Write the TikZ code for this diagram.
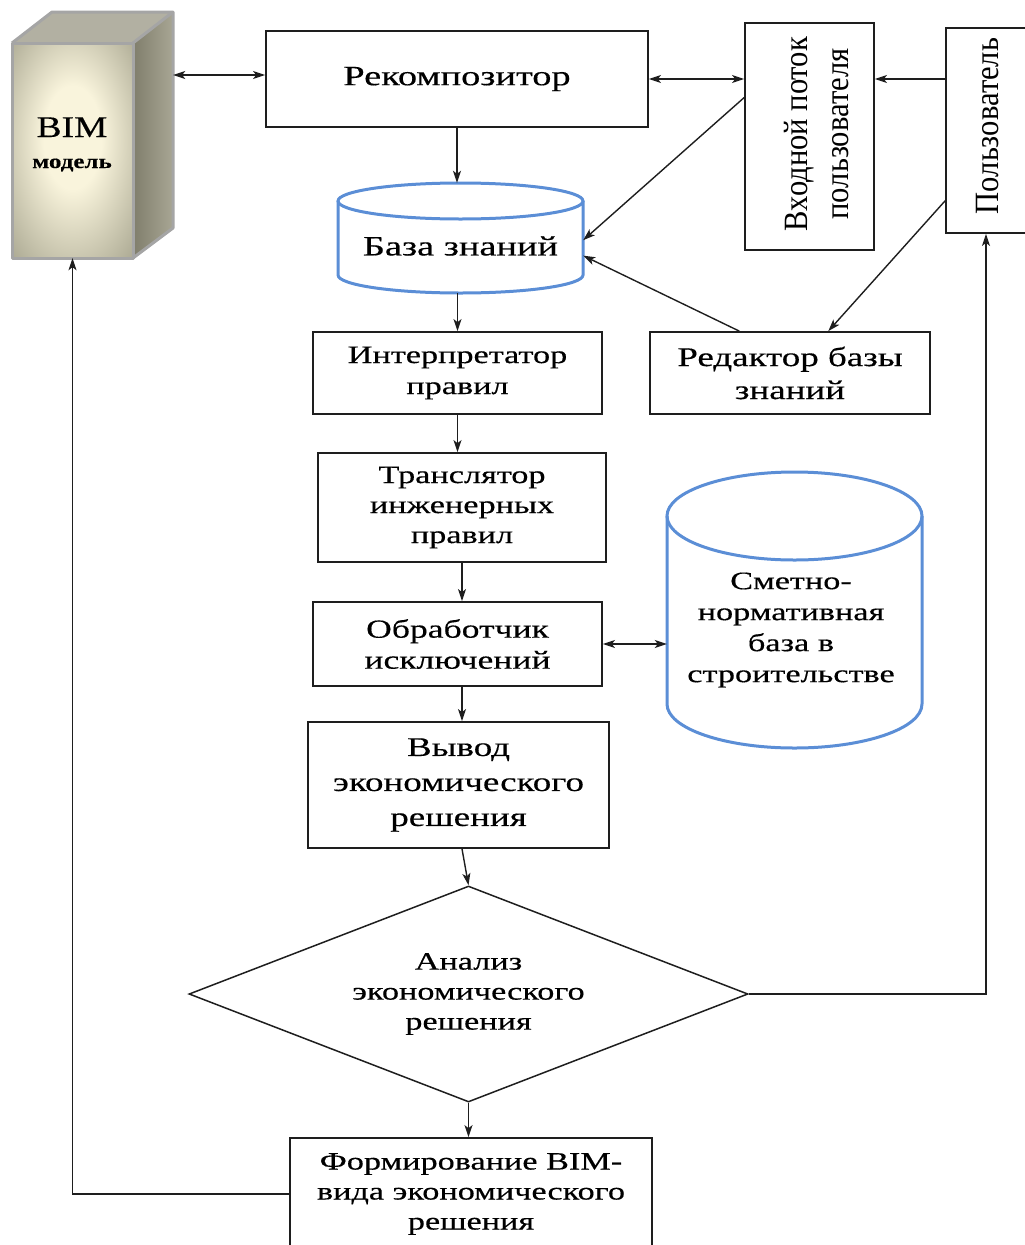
\documentclass[tikz,border=0pt]{standalone}
\usepackage{fontspec}
\setmainfont{Liberation Serif}
\newfontfamily\widef{Liberation Serif}[FakeStretch=1.37,FakeBold=0.4]
\newfontfamily\narrowf{Liberation Serif}[FakeStretch=0.9]
\newfontfamily\bimf{Liberation Serif}[FakeStretch=1.25,FakeBold=0.4]
\usetikzlibrary{arrows.meta,shapes.geometric,calc}
\newcommand\myfs[2]{\fontsize{#1}{#2}\selectfont}
\definecolor{cylblue}{RGB}{91,142,214}
\definecolor{bimin}{RGB}{249,244,220}
\definecolor{bimout}{RGB}{160,158,136}
\definecolor{bimtop}{RGB}{178,176,162}
\definecolor{bimsideA}{RGB}{128,126,108}
\definecolor{bimsideB}{RGB}{168,166,148}
\definecolor{bimedge}{RGB}{165,165,165}
\definecolor{ink}{RGB}{30,30,30}
\pgfdeclareradialshading{bimshade}{\pgfpoint{0bp}{4bp}}{color(0bp)=(bimin); color(12bp)=(bimin); color(40bp)=(bimout); color(50bp)=(bimout)}
\begin{document}
\begin{tikzpicture}[x=1pt,y=-1pt,
  box/.style={draw=ink, line width=1.8pt, inner sep=0pt, align=center},
  plain/.style={inner sep=0pt, align=center},
  cyl/.style={draw=cylblue, line width=3pt},
  arr/.style={draw=ink, line width=1.4pt, -{Stealth[length=12pt,width=8pt,inset=3pt]}},
  darr/.style={draw=ink, line width=1.4pt, {Stealth[length=12pt,width=8pt,inset=3pt]}-{Stealth[length=12pt,width=8pt,inset=3pt]}},
  bimline/.style={draw=bimedge, line width=3pt, line join=round}
]
\useasboundingbox (0,0) rectangle (1025,1245);

% ---- BIM model 3D box ----
\shade[shading=bimshade] (12,43) rectangle (133,258);
\fill[bimtop] (12,43) -- (52,12) -- (173,12) -- (133,43) -- cycle;
\shade[left color=bimsideA, right color=bimsideB] (133,43) -- (173,12) -- (173,228) -- (133,258) -- cycle;
\draw[bimline] (12,43) rectangle (133,258);
\draw[bimline] (12,43) -- (52,12) -- (173,12) -- (173,228) -- (133,258);
\draw[bimline] (133,43) -- (173,12);
\node[plain, minimum width=121, minimum height=215] (bim) at (72.5,150.5) {};
\node[plain, minimum width=161, minimum height=246] (bimbox) at (92.5,135) {};
\node[plain, anchor=base, font=\bimf\myfs{30}{34}] (bimt) at (72,137) {BIM};
\node[plain, anchor=base, font=\bimf\bfseries\myfs{20}{22}] (bimt2) at (72,168) {модель};

% ---- boxes ----
\node[box, minimum width=382, minimum height=96, font=\widef\myfs{28}{34}] (rek) at (457,79) {Рекомпозитор};
\node[box, minimum width=129, minimum height=227] (vp) at (809.5,136.5) {};
\node[plain, rotate=90, font=\narrowf\myfs{34}{41}] (vpt) at (817,134) {Входной поток\\пользователя};
\node[box, minimum width=80, minimum height=205] (user) at (986,130.5) {};
\node[plain, rotate=90, font=\narrowf\myfs{34}{41}] (usert) at (988,126) {Пользователь};

\node[box, minimum width=289, minimum height=82, font=\widef\myfs{25}{31}] (interp) at (457.5,373) {Интерпретатор\\правил};
\node[box, minimum width=280, minimum height=82, font=\widef\myfs{27}{33}] (red) at (790,373) {Редактор базы\\знаний};
\node[box, minimum width=288, minimum height=109, font=\widef\myfs{25}{30}] (transl) at (462,507.5) {Транслятор\\инженерных\\правил};
\node[box, minimum width=289, minimum height=84, font=\widef\myfs{26}{31}] (obr) at (457.5,644) {Обработчик\\исключений};
\node[box, minimum width=301, minimum height=126, font=\widef\myfs{27}{35}] (vyv) at (458.5,785) {Вывод\\экономического\\решения};
\node[draw=ink, line width=1.5pt, diamond, aspect=2.59, minimum width=559, minimum height=216, inner sep=0pt, align=center, font=\widef\myfs{25}{30}] (dia) at (468.5,994) {Анализ\\экономического\\решения};
\node[box, minimum width=362, minimum height=112, font=\widef\myfs{25}{30}] (form) at (471,1194) {Формирование BIM-\\вида экономического\\решения};

% ---- knowledge base cylinder ----
\draw[cyl] (338,201) -- (338,275) arc[start angle=180, end angle=360, x radius=122.5pt, y radius=18pt] -- (583,201);
\draw[cyl] (460.5,201) ellipse[x radius=122.5pt, y radius=18pt];
\node[plain, minimum width=245, minimum height=110] (bz) at (460.5,238) {};
\node[plain, font=\widef\myfs{28}{34}] (bzt) at (460.5,246) {База знаний};

% ---- estimate base cylinder ----
\draw[cyl] (667,516) -- (667,704) arc[start angle=180, end angle=360, x radius=127.5pt, y radius=44pt] -- (922,516);
\draw[cyl] (794.5,516) ellipse[x radius=127.5pt, y radius=44pt];
\node[plain, minimum width=255, minimum height=276] (smeta) at (794.5,610) {};
\node[plain, font=\widef\myfs{25}{31}] (smetat) at (791,630) {Сметно-\\нормативная\\база в\\строительстве};

% ---- connectors ----
\draw[darr] (bimbox.east |- 0,75) -- (rek.west |- 0,75);
\draw[darr] (rek.east) -- (rek.east -| vp.west);
\draw[arr] (user.west |- rek.east) -- (vp.east |- rek.east);
\draw[arr] ($(vp.north west)!0.33!(vp.south west)$) -- ($(bz.north east)!0.52!(bz.south east)$);
\draw[arr] ($(user.north west)!0.84!(user.south west)$) -- ($(red.north west)!0.636!(red.north east)$);
\draw[arr] ($(red.north west)!0.32!(red.north east)$) -- ($(bz.north east)!0.66!(bz.south east)$);
\draw[arr] (rek.south) -- (rek.south |- bz.north);
\draw[arr] (interp.north |- bz.south) -- (interp.north);
\draw[arr] (interp.south) -- (interp.south |- transl.north);
\draw[arr] (transl.south) -- (transl.south |- obr.north);
\draw[arr] (transl.south |- obr.south) -- (transl.south |- vyv.north);
\draw[arr] (vyv.south -| transl.south) -- (dia.north);
\draw[arr] (dia.south) -- (dia.south |- form.north);
\draw[darr] (obr.east) -- (obr.east -| smeta.west);
\draw[arr] (dia.east) -| (user.south);
\draw[arr] (form.west) -| (bim.south);
\end{tikzpicture}
\end{document}
